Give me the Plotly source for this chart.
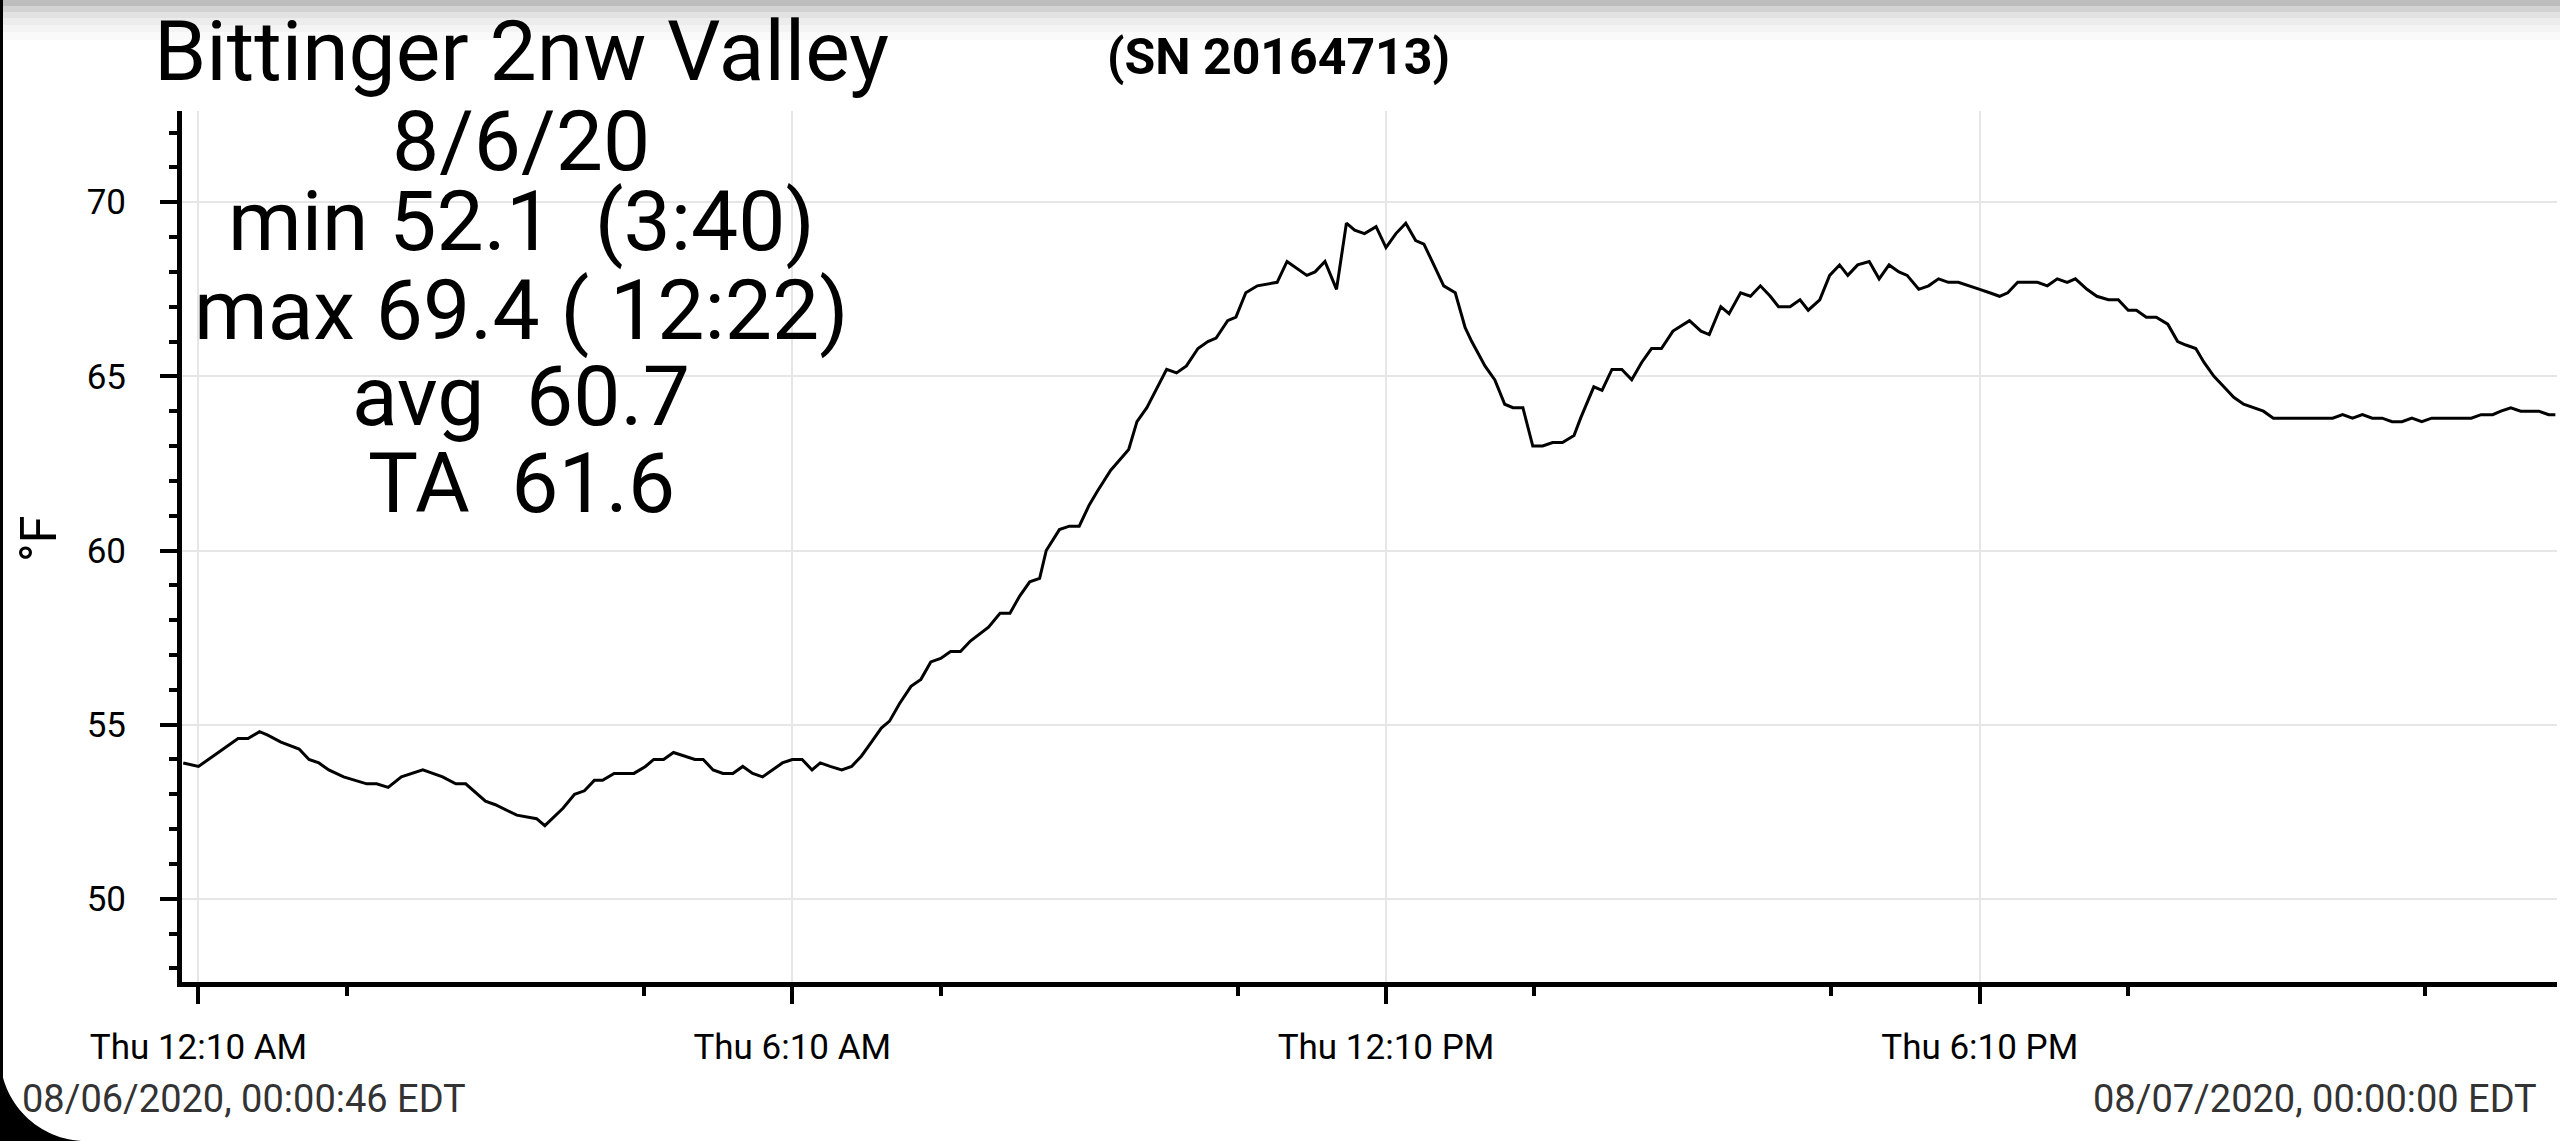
import plotly.graph_objects as go

# ---------------- data ----------------
DATE = "2020-08-06"
times = ["00:00:46", "00:10", "00:22", "00:34", "00:40", "00:47", "00:52", "01:00", "01:11", "01:17",
         "01:23", "01:29", "01:38", "01:52", "01:58", "02:05", "02:13", "02:26", "02:38", "02:46",
         "02:52", "03:04", "03:10", "03:23", "03:35", "03:40", "03:51", "03:58", "04:04", "04:10",
         "04:15", "04:22", "04:34", "04:41", "04:46", "04:52", "04:58", "05:04", "05:11", "05:16",
         "05:22", "05:28", "05:34", "05:40", "05:46", "05:52", "05:58", "06:04", "06:10", "06:16",
         "06:22", "06:27", "06:33", "06:40", "06:46", "06:52", "06:58", "07:04", "07:09", "07:15",
         "07:22", "07:28", "07:34", "07:40", "07:46", "07:52", "07:58", "08:09", "08:16", "08:22",
         "08:28", "08:34", "08:40", "08:44", "08:52", "08:58", "09:04", "09:10", "09:15", "09:23",
         "09:34", "09:39", "09:45", "09:57", "10:03", "10:09", "10:16", "10:22", "10:27", "10:34",
         "10:39", "10:45", "10:52", "11:04", "11:10", "11:16", "11:22", "11:27", "11:33", "11:40",
         "11:46", "11:51", "11:57", "12:04", "12:10", "12:16", "12:22", "12:28", "12:33", "12:39",
         "12:45", "12:52", "12:58", "13:02", "13:10", "13:16", "13:22", "13:27", "13:33", "13:39",
         "13:45", "13:51", "13:57", "14:04", "14:08", "14:16", "14:21", "14:27", "14:33", "14:39",
         "14:45", "14:51", "14:57", "15:04", "15:14", "15:21", "15:26", "15:33", "15:38", "15:45",
         "15:51", "15:57", "16:03", "16:08", "16:15", "16:21", "16:26", "16:33", "16:39", "16:45",
         "16:50", "16:56", "17:03", "17:09", "17:15", "17:21", "17:26", "17:33", "17:39", "17:45",
         "17:51", "17:57", "18:04", "18:10", "18:16", "18:22", "18:27", "18:33", "18:39", "18:45",
         "18:51", "18:57", "19:03", "19:08", "19:15", "19:21", "19:28", "19:34", "19:40", "19:45",
         "19:51", "19:57", "20:04", "20:10", "20:15", "20:21", "20:26", "20:32", "20:38", "20:44",
         "20:50", "20:56", "21:02", "21:08", "21:14", "21:21", "21:27", "21:33", "21:38", "21:44",
         "21:50", "21:56", "22:02", "22:08", "22:14", "22:20", "22:26", "22:32", "22:38", "22:44",
         "22:50", "22:56", "23:02", "23:08", "23:14", "23:21", "23:26", "23:32", "23:38", "23:44",
         "23:49", "23:55", "23:59"]
temps = [53.9, 53.8, 54.2, 54.6, 54.6, 54.8, 54.7, 54.5, 54.3, 54.0,
         53.9, 53.7, 53.5, 53.3, 53.3, 53.2, 53.5, 53.7, 53.5, 53.3,
         53.3, 52.8, 52.7, 52.4, 52.3, 52.1, 52.6, 53.0, 53.1, 53.4,
         53.4, 53.6, 53.6, 53.8, 54.0, 54.0, 54.2, 54.1, 54.0, 54.0,
         53.7, 53.6, 53.6, 53.8, 53.6, 53.5, 53.7, 53.9, 54.0, 54.0,
         53.7, 53.9, 53.8, 53.7, 53.8, 54.1, 54.5, 54.9, 55.1, 55.6,
         56.1, 56.3, 56.8, 56.9, 57.1, 57.1, 57.4, 57.8, 58.2, 58.2,
         58.7, 59.1, 59.2, 60.0, 60.6, 60.7, 60.7, 61.3, 61.7, 62.3,
         62.9, 63.7, 64.1, 65.2, 65.1, 65.3, 65.8, 66.0, 66.1, 66.6,
         66.7, 67.4, 67.6, 67.7, 68.3, 68.1, 67.9, 68.0, 68.3, 67.5,
         69.4, 69.2, 69.1, 69.3, 68.7, 69.1, 69.4, 68.9, 68.8, 68.2,
         67.6, 67.4, 66.4, 66.0, 65.3, 64.9, 64.2, 64.1, 64.1, 63.0,
         63.0, 63.1, 63.1, 63.3, 63.8, 64.7, 64.6, 65.2, 65.2, 64.9,
         65.4, 65.8, 65.8, 66.3, 66.6, 66.3, 66.2, 67.0, 66.8, 67.4,
         67.3, 67.6, 67.3, 67.0, 67.0, 67.2, 66.9, 67.2, 67.9, 68.2,
         67.9, 68.2, 68.3, 67.8, 68.2, 68.0, 67.9, 67.5, 67.6, 67.8,
         67.7, 67.7, 67.6, 67.5, 67.4, 67.3, 67.4, 67.7, 67.7, 67.7,
         67.6, 67.8, 67.7, 67.8, 67.5, 67.3, 67.2, 67.2, 66.9, 66.9,
         66.7, 66.7, 66.5, 66.0, 65.9, 65.8, 65.4, 65.0, 64.7, 64.4,
         64.2, 64.1, 64.0, 63.8, 63.8, 63.8, 63.8, 63.8, 63.8, 63.8,
         63.9, 63.8, 63.9, 63.8, 63.8, 63.7, 63.7, 63.8, 63.7, 63.8,
         63.8, 63.8, 63.8, 63.8, 63.9, 63.9, 64.0, 64.1, 64.0, 64.0,
         64.0, 63.9, 63.9]

x_tick_times = ["00:10", "06:10", "12:10", "18:10"]
x_tick_labels = ["Thu 12:10 AM", "Thu 6:10 AM", "Thu 12:10 PM", "Thu 6:10 PM"]
x_minor_times = ["01:40", "04:40", "07:40", "10:40", "13:40", "16:40", "19:40", "22:40"]
x_range = ["2020-08-06 00:00:00", "2020-08-07 00:00:00"]
y_range = [47.61, 72.62]

title_lines = ["Bittinger 2nw Valley", "8/6/20", "min 52.1\u00a0 (3:40)",
               "max 69.4 ( 12:22)", "avg\u00a0 60.7", "TA\u00a0 61.6"]
serial_text = "(SN 20164713)"
start_stamp = "08/06/2020, 00:00:46 EDT"
end_stamp = "08/07/2020, 00:00:00 EDT"
y_unit = "°F"

# ---------------- geometry ----------------
W, H = 2560, 1141
L, R, T, B = 182, 3, 111, 159
PW, PH = W - L - R, H - T - B
FONT = "Roboto"


def px(xp):
    return (xp - L) / PW


def py(yp):
    return (H - B - yp) / PH


def stamp(t):
    return f"{DATE} {t}" if t.count(":") == 2 else f"{DATE} {t}:00"


fig = go.Figure()
fig.add_trace(go.Scatter(
    x=[stamp(t) for t in times], y=temps, mode="lines",
    line=dict(color="black", width=3), hoverinfo="x+y", showlegend=False))

fig.update_xaxes(
    type="date", range=x_range,
    tickmode="array", tickvals=[stamp(t) for t in x_tick_times], ticktext=x_tick_labels,
    ticks="outside", ticklen=17, tickwidth=4, tickcolor="black",
    showline=True, linecolor="black", linewidth=5,
    showgrid=True, gridcolor="#e6e6e6", gridwidth=2, zeroline=False,
    tickfont=dict(family=FONT, size=35, color="black"), ticklabelstandoff=13,
    minor=dict(tickmode="array", tickvals=[stamp(t) for t in x_minor_times],
               ticks="outside", ticklen=9, tickwidth=4, tickcolor="black", showgrid=False),
)
fig.update_yaxes(
    range=y_range, tickmode="linear", tick0=50, dtick=5,
    ticks="outside", ticklen=17, tickwidth=4, tickcolor="black",
    showline=True, linecolor="black", linewidth=5,
    showgrid=True, gridcolor="#e6e6e6", gridwidth=2, zeroline=False,
    tickfont=dict(family=FONT, size=35, color="black"), ticklabelstandoff=27,
    minor=dict(tickmode="linear", tick0=0, dtick=1, ticks="outside", ticklen=8,
               tickwidth=4, tickcolor="black", showgrid=False),
)

annotations = []
title_y = [51.5, 141.5, 222, 310, 397, 483]
for txt, yy in zip(title_lines, title_y):
    annotations.append(dict(text=txt, x=px(521), y=py(yy), xref="paper", yref="paper",
                            xanchor="center", yanchor="middle", showarrow=False,
                            font=dict(family=FONT, size=84, color="black")))
annotations.append(dict(text="<b>" + serial_text + "</b>", x=px(1278), y=py(57),
                        xref="paper", yref="paper", xanchor="center", yanchor="middle",
                        showarrow=False, font=dict(family=FONT, size=50, color="black")))
annotations.append(dict(text=y_unit, x=px(39), y=py(539), xref="paper", yref="paper",
                        xanchor="center", yanchor="middle", textangle=-90, showarrow=False,
                        font=dict(family=FONT, size=50, color="black")))
annotations.append(dict(text=start_stamp, x=px(20), y=py(1099), xref="paper", yref="paper",
                        xanchor="left", yanchor="middle", showarrow=False,
                        font=dict(family=FONT, size=38, color="#333333")))
annotations.append(dict(text=end_stamp, x=px(2539), y=py(1099), xref="paper", yref="paper",
                        xanchor="right", yanchor="middle", showarrow=False,
                        font=dict(family=FONT, size=38, color="#333333")))

shapes = []
# top status-bar shadow gradient
grad = [(0, 6, "#bdbdbd"), (6, 12, "#d2d2d2"), (12, 18, "#e2e2e2"), (18, 25, "#ececec"),
        (25, 32, "#f4f4f4"), (32, 40, "#fafafa")]
for y0, y1, c in grad:
    shapes.append(dict(type="rect", xref="paper", yref="paper", x0=px(0), x1=px(W),
                       y0=py(y1), y1=py(y0), fillcolor=c, line=dict(width=0), layer="below"))
# left device edge
shapes.append(dict(type="rect", xref="paper", yref="paper", x0=px(0), x1=px(3),
                   y0=py(H), y1=py(0), fillcolor="black", line=dict(width=0), layer="above"))
# rounded bottom-left corner
Rc = 86
k = 0.552 * Rc
path = (f"M {px(0)} {py(H - Rc)} C {px(0)} {py(H - Rc + k)} {px(Rc - k)} {py(H)} {px(Rc)} {py(H)} "
        f"L {px(0)} {py(H)} Z")
shapes.append(dict(type="path", xref="paper", yref="paper", path=path, fillcolor="black",
                   line=dict(width=0), layer="above"))

fig.update_layout(
    width=W, height=H, autosize=False,
    margin=dict(l=L, r=R, t=T, b=B, pad=0),
    paper_bgcolor="white", plot_bgcolor="white",
    font=dict(family=FONT, color="black"),
    showlegend=False, annotations=annotations, shapes=shapes,
)

fig.write_html("out.html", config={"displayModeBar": False},
               post_script="document.body.style.margin='0';document.body.style.padding='0';"
                           "document.body.style.overflow='hidden';")
